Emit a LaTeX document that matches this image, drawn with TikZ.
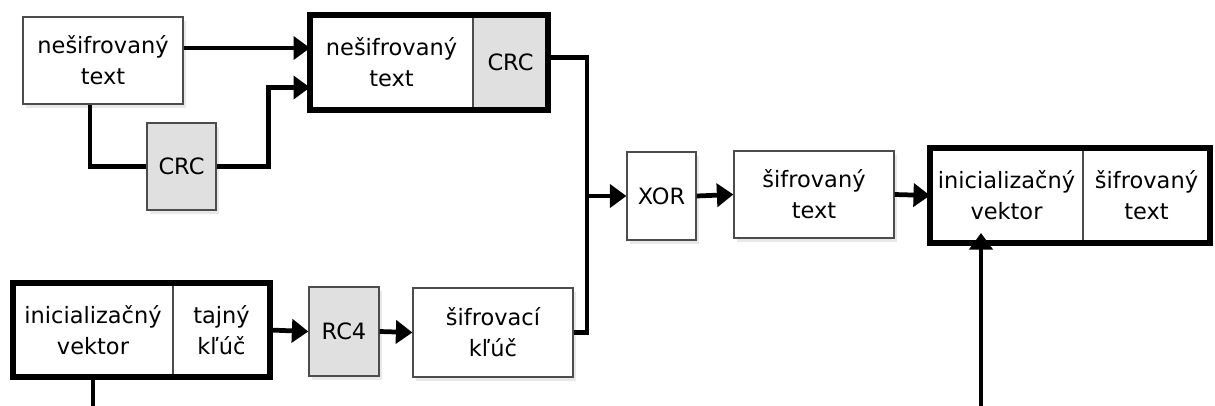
\documentclass[tikz,border=0pt]{standalone}
\usepackage{fontspec}
\setmainfont{DejaVu Sans}
\usepackage{tikz}
\usetikzlibrary{arrows.meta,positioning,shadows}

\begin{document}
\begin{tikzpicture}[
  font=\fontsize{12.8}{17.5}\selectfont,
  block/.style={draw=black!70, line width=0.7pt, minimum width=3.2cm, minimum height=1.74cm, align=center, fill=white,
    drop shadow={opacity=0.18, shadow xshift=0.6mm, shadow yshift=-0.8mm}},
  graybox/.style={block, fill=black!12},
  part/.style={draw=black!70, line width=0.7pt, minimum height=1.9cm, align=center, fill=white, outer sep=0pt},
  frame/.style={line width=3.8pt},
  wire/.style={line width=2.7pt},
  arr/.style={wire, -{Triangle[length=3.3mm, width=4.6mm]}}
]
  \useasboundingbox (0,0) rectangle (24.3,-8.1);

  % top: message and its checksum
  \node[block] at (2.06,-1.21) (plain) {nešifrovaný\\text};
  \node[graybox, minimum width=1.38cm] at (3.63,-3.33) (crcA) {CRC};
  \node[part, minimum width=3.26cm] at (7.83,-1.25) (msg) {nešifrovaný\\text};
  \node[part, fill=black!12, minimum width=1.5cm, right=0pt of msg] (crcB) {CRC};
  \draw[frame] (msg.north west) rectangle (crcB.south east);

  % bottom: key stream
  \node[part, minimum width=3.2cm, minimum height=1.88cm] at (1.86,-6.6) (ivL) {inicializačný\\vektor};
  \node[part, minimum width=1.94cm, minimum height=1.88cm, right=0pt of ivL] (secret) {tajný\\kľúč};
  \draw[frame] (ivL.north west) rectangle (secret.south east);
  \node[graybox, minimum width=1.4cm, minimum height=1.78cm] at (6.88,-6.63) (rc4) {RC4};
  \node[block, minimum height=1.78cm] at (9.86,-6.65) (key) {šifrovací\\kľúč};

  % middle: encryption and output
  \node[block, minimum width=1.38cm, minimum height=1.76cm] at (13.23,-3.92) (xor) {XOR};
  \node[block] at (16.28,-3.89) (enc) {šifrovaný\\text};
  \node[part, minimum width=3.06cm] at (20.13,-3.91) (ivR) {inicializačný\\vektor};
  \node[part, minimum width=2.54cm, right=0pt of ivR] (encR) {šifrovaný\\text};
  \draw[frame] (ivR.north west) rectangle (encR.south east);

  \coordinate (join) at (11.74,-3.92);
  \coordinate (low) at (0,-8.2);

  \draw[arr] ([yshift=0.25cm]plain.east) -- ([yshift=0.25cm]plain.east -| msg.west);
  \draw[wire] ([xshift=-0.26cm]plain.south) |- (crcA.west);
  \draw[arr] (crcA.east) -- ++(1.04,0) |- ([yshift=-0.5cm]msg.west);
  \draw[wire] ([yshift=0.1cm]crcB.east) -| (join);
  \draw[wire] (key.east) -| (join);
  \draw[arr] (join) -- (xor.west);
  \draw[arr] (secret.east) -- (rc4.west);
  \draw[arr] (rc4.east) -- (key.west);
  \draw[arr] (xor.east) -- (enc.west);
  \draw[arr] (enc.east) -- (ivR.west);
  \draw[arr] (ivL.south) -- (ivL.south |- low) -| ([xshift=-0.51cm, yshift=0.2cm]ivR.south);
\end{tikzpicture}
\end{document}
